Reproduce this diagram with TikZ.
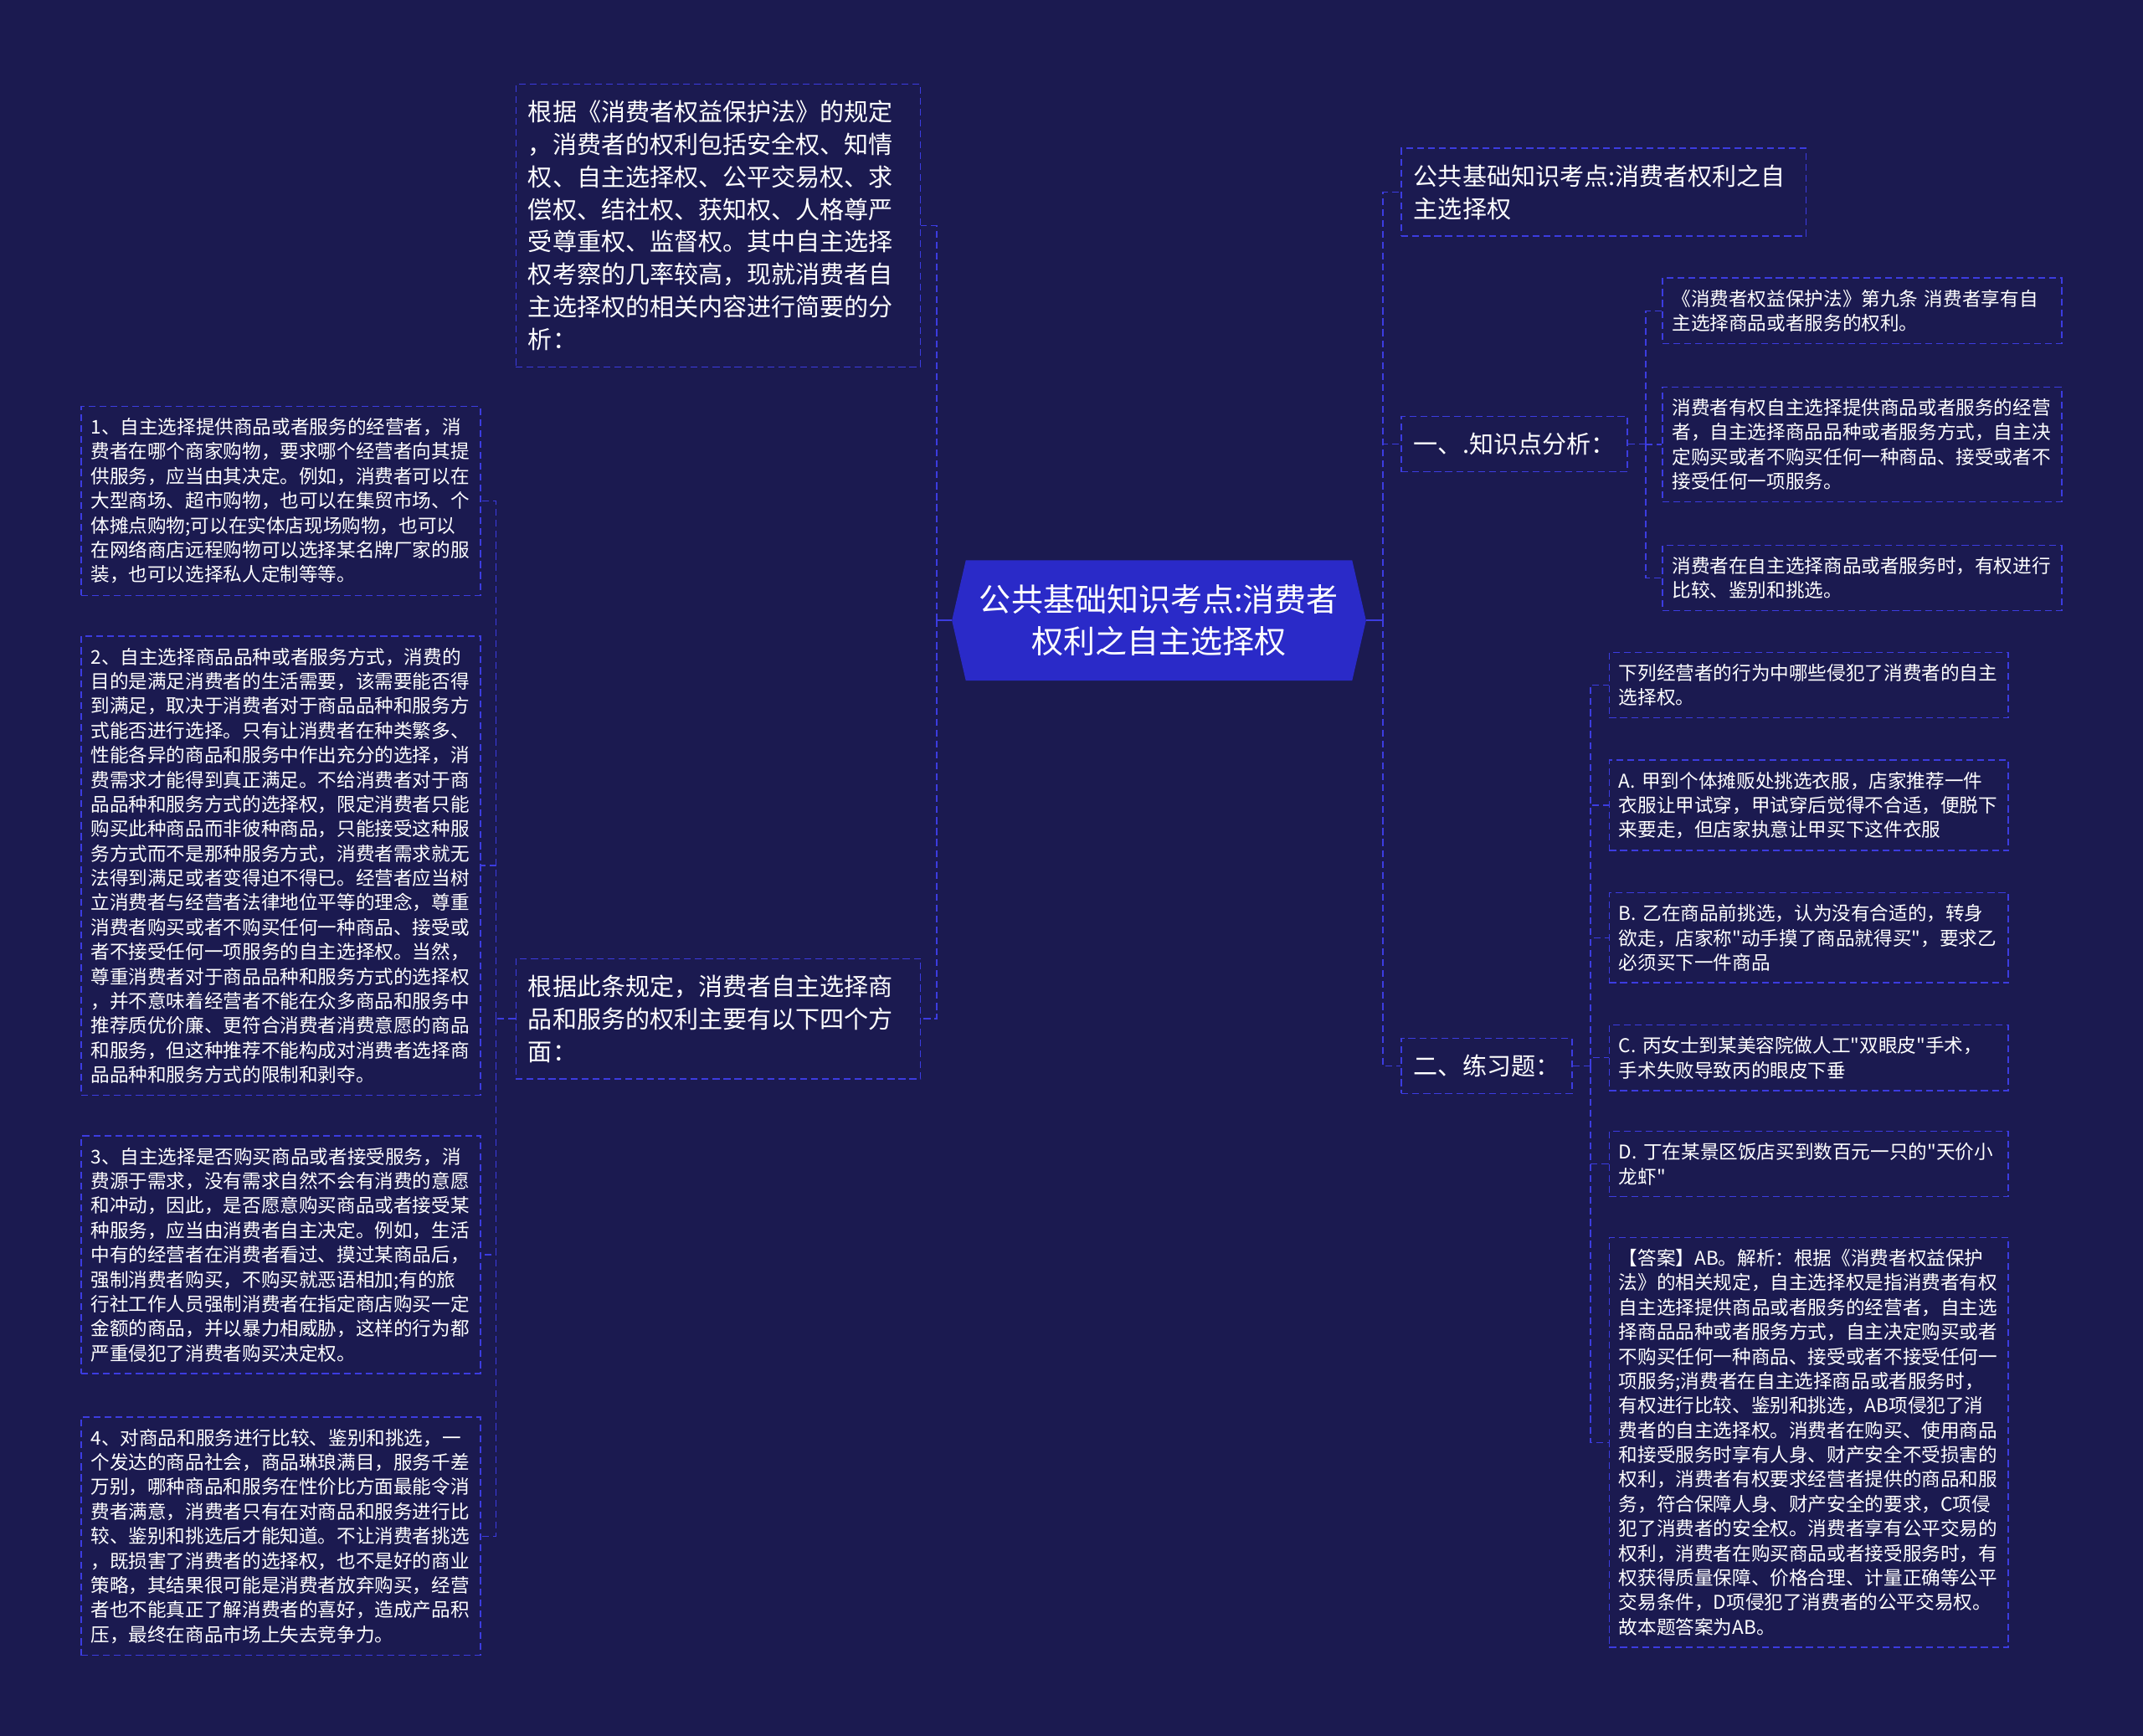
\documentclass[tikz,border=0pt]{standalone}
\usepackage{fontspec}
\setmainfont{Noto Sans CJK SC}[Ligatures=TeXOff]
\usepackage{tikz}
\usetikzlibrary{shapes, positioning}
\definecolor{map-bg}{RGB}{27,26,80}
\definecolor{map-root}{RGB}{42,42,200}
\definecolor{map-line}{RGB}{60,60,224}

\begin{document}
\begin{tikzpicture}[
    x=1pt, y=-1pt,
    node distance=30pt,
    root/.style={signal, signal to=west and east, signal pointer angle=154, fill=map-root, text=white, minimum width=303pt, minimum height=88pt, inner sep=0pt, align=center, font=\fontsize{23.3}{31}\selectfont},
    topic/.style={rectangle, draw=map-line, dash pattern=on 5pt off 3pt, line width=0.9pt, text=white, align=left, inner xsep=9pt, inner ysep=12pt, font=\fontsize{17.8}{23.8}\selectfont},
    leaf/.style={rectangle, draw=map-line, dash pattern=on 5pt off 3pt, line width=0.9pt, text=white, align=left, text width=278pt, inner xsep=7pt, inner ysep=8.5pt, font=\fontsize{13.85}{18}\selectfont},
    link/.style={draw=map-line, dash pattern=on 5pt off 3pt, line width=0.9pt},
    stub/.style={draw=map-line, line width=1pt}
]
\useasboundingbox (0,0) rectangle (1568,1270);
\fill[map-bg] (0,0) rectangle (1568,1270);

% 中心主题
\node[root] (root) at (848,454) {公共基础知识考点:消费者\\权利之自主选择权};

% 左侧分支
\node[topic, text width=278pt, anchor=north west] (intro) at (377,61) {根据《消费者权益保护法》的规定\\，消费者的权利包括安全权、知情\\权、自主选择权、公平交易权、求\\偿权、结社权、获知权、人格尊严\\受尊重权、监督权。其中自主选择\\权考察的几率较高，现就消费者自\\主选择权的相关内容进行简要的分\\析：};
\node[topic, text width=278pt, anchor=north west] (rule) at (377,701) {根据此条规定，消费者自主选择商\\品和服务的权利主要有以下四个方\\面：};

\node[leaf, anchor=north west] (p1) at (59,297) {1、自主选择提供商品或者服务的经营者，消\\费者在哪个商家购物，要求哪个经营者向其提\\供服务，应当由其决定。例如，消费者可以在\\大型商场、超市购物，也可以在集贸市场、个\\体摊点购物;可以在实体店现场购物，也可以\\在网络商店远程购物可以选择某名牌厂家的服\\装，也可以选择私人定制等等。};
\node[leaf, below=29pt of p1] (p2) {2、自主选择商品品种或者服务方式，消费的\\目的是满足消费者的生活需要，该需要能否得\\到满足，取决于消费者对于商品品种和服务方\\式能否进行选择。只有让消费者在种类繁多、\\性能各异的商品和服务中作出充分的选择，消\\费需求才能得到真正满足。不给消费者对于商\\品品种和服务方式的选择权，限定消费者只能\\购买此种商品而非彼种商品，只能接受这种服\\务方式而不是那种服务方式，消费者需求就无\\法得到满足或者变得迫不得已。经营者应当树\\立消费者与经营者法律地位平等的理念，尊重\\消费者购买或者不购买任何一种商品、接受或\\者不接受任何一项服务的自主选择权。当然，\\尊重消费者对于商品品种和服务方式的选择权\\，并不意味着经营者不能在众多商品和服务中\\推荐质优价廉、更符合消费者消费意愿的商品\\和服务，但这种推荐不能构成对消费者选择商\\品品种和服务方式的限制和剥夺。};
\node[leaf, below=29pt of p2] (p3) {3、自主选择是否购买商品或者接受服务，消\\费源于需求，没有需求自然不会有消费的意愿\\和冲动，因此，是否愿意购买商品或者接受某\\种服务，应当由消费者自主决定。例如，生活\\中有的经营者在消费者看过、摸过某商品后，\\强制消费者购买，不购买就恶语相加;有的旅\\行社工作人员强制消费者在指定商店购买一定\\金额的商品，并以暴力相威胁，这样的行为都\\严重侵犯了消费者购买决定权。};
\node[leaf, below=31pt of p3] (p4) {4、对商品和服务进行比较、鉴别和挑选，一\\个发达的商品社会，商品琳琅满目，服务千差\\万别，哪种商品和服务在性价比方面最能令消\\费者满意，消费者只有在对商品和服务进行比\\较、鉴别和挑选后才能知道。不让消费者挑选\\，既损害了消费者的选择权，也不是好的商业\\策略，其结果很可能是消费者放弃购买，经营\\者也不能真正了解消费者的喜好，造成产品积\\压，最终在商品市场上失去竞争力。};

% 右侧分支
\node[topic, text width=278pt, anchor=north west] (head) at (1025,108) {公共基础知识考点:消费者权利之自\\主选择权};
\node[topic, anchor=west] (know) at (1025,325) {一、.知识点分析：};
\node[topic, anchor=west] (prac) at (1025,780) {二、练习题：};

\node[leaf, anchor=north west] (k1) at (1216,203) {《消费者权益保护法》第九条 消费者享有自\\主选择商品或者服务的权利。};
\node[leaf, below=31pt of k1] (k2) {消费者有权自主选择提供商品或者服务的经营\\者，自主选择商品品种或者服务方式，自主决\\定购买或者不购买任何一种商品、接受或者不\\接受任何一项服务。};
\node[leaf, below=31pt of k2] (k3) {消费者在自主选择商品或者服务时，有权进行\\比较、鉴别和挑选。};

\node[leaf, anchor=north west] (q0) at (1177,477) {下列经营者的行为中哪些侵犯了消费者的自主\\选择权。};
\node[leaf, below=of q0] (qa) {A. 甲到个体摊贩处挑选衣服，店家推荐一件\\衣服让甲试穿，甲试穿后觉得不合适，便脱下\\来要走，但店家执意让甲买下这件衣服};
\node[leaf, below=of qa] (qb) {B. 乙在商品前挑选，认为没有合适的，转身\\欲走，店家称"动手摸了商品就得买"，要求乙\\必须买下一件商品};
\node[leaf, below=of qb] (qc) {C. 丙女士到某美容院做人工"双眼皮"手术，\\手术失败导致丙的眼皮下垂};
\node[leaf, below=29pt of qc] (qd) {D. 丁在某景区饭店买到数百元一只的"天价小\\龙虾"};
\node[leaf, below=29pt of qd] (ans) {【答案】AB。解析：根据《消费者权益保护\\法》的相关规定，自主选择权是指消费者有权\\自主选择提供商品或者服务的经营者，自主选\\择商品品种或者服务方式，自主决定购买或者\\不购买任何一种商品、接受或者不接受任何一\\项服务;消费者在自主选择商品或者服务时，\\有权进行比较、鉴别和挑选，AB项侵犯了消\\费者的自主选择权。消费者在购买、使用商品\\和接受服务时享有人身、财产安全不受损害的\\权利，消费者有权要求经营者提供的商品和服\\务，符合保障人身、财产安全的要求，C项侵\\犯了消费者的安全权。消费者享有公平交易的\\权利，消费者在购买商品或者接受服务时，有\\权获得质量保障、价格合理、计量正确等公平\\交易条件，D项侵犯了消费者的公平交易权。\\故本题答案为AB。};

% 连线
\draw[stub] (root.west) -- ++(-11pt,0) coordinate (lj);
\draw[stub] (root.east) -- ++(12pt,0) coordinate (rj);
\draw[link] (lj) |- (intro.east);
\draw[link] (lj) |- (rule.east);
\draw[link] (rule.west) -- ++(-14pt,0) coordinate (lk);
\draw[link] (lk) |- (p1.east);
\draw[link] (lk) |- (p2.east);
\draw[link] (lk) |- (p3.east);
\draw[link] (lk) |- (p4.east);
\draw[link] (rj) |- (head.west);
\draw[link] (rj) |- (know.west);
\draw[link] (rj) |- (prac.west);
\draw[link] (know.east) -- ++(13pt,0) coordinate (kj);
\draw[link] (kj) |- (k1.west);
\draw[link] (kj) |- (k2.west);
\draw[link] (kj) |- (k3.west);
\draw[link] (prac.east) -- ++(13pt,0) coordinate (qj);
\draw[link] (qj) |- (q0.west);
\draw[link] (qj) |- (qa.west);
\draw[link] (qj) |- (qb.west);
\draw[link] (qj) |- (qc.west);
\draw[link] (qj) |- (qd.west);
\draw[link] (qj) |- (ans.west);

\end{tikzpicture}
\end{document}
